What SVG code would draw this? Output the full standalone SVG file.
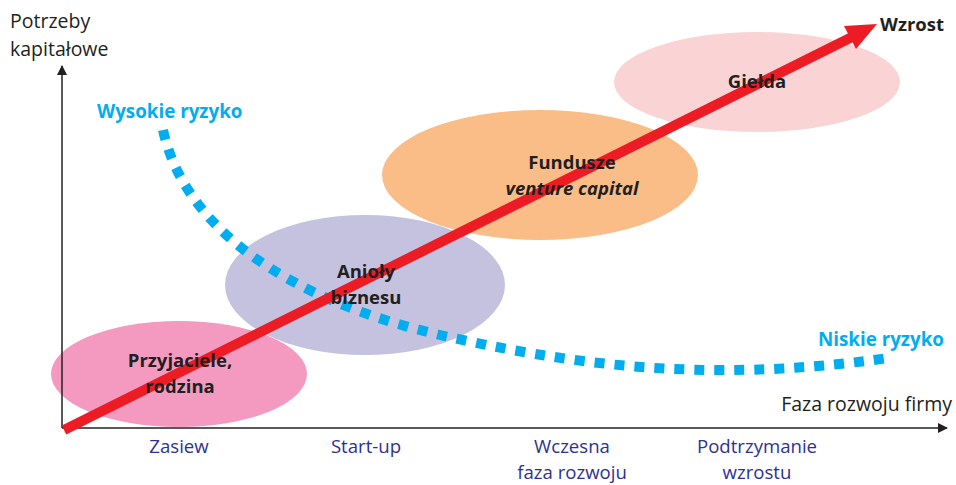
<svg xmlns="http://www.w3.org/2000/svg" width="956" height="485" viewBox="0 0 956 485">
<defs>
<style>
.t{font-family:"Open Sans","Liberation Sans",sans-serif;}
.ax{font-size:19.5px;fill:#231f20;}
.nd{font-size:18.5px;font-weight:bold;fill:#231f20;text-anchor:middle;}
.risk{font-size:18.8px;font-weight:bold;fill:#00aeef;}
.ph{font-size:18.6px;fill:#2e3192;text-anchor:middle;}
</style>
<marker id="ah" markerWidth="10" markerHeight="10" refX="9" refY="5" orient="auto" markerUnits="userSpaceOnUse" viewBox="0 0 10 10">
<path d="M0,0 L10,5 L0,10 z" fill="#231f20"/>
</marker>
</defs>
<rect width="956" height="485" fill="#ffffff"/>
<g id="n-przyjaciele"><ellipse cx="179" cy="374" rx="128" ry="53" fill="#f49ac1"/></g>
<g id="n-anioly"><ellipse cx="365" cy="285" rx="140" ry="70" fill="#c5c2e0"/></g>
<g id="n-fundusze"><ellipse cx="540" cy="175" rx="158" ry="65" fill="#fbbd88"/></g>
<g id="n-gielda"><ellipse cx="757" cy="82" rx="143" ry="50" fill="#fad4d4"/></g>
<g id="connectors">
<line x1="62" y1="428" x2="62" y2="66" stroke="#231f20" stroke-width="1.5" marker-end="url(#ah)"/>
<line x1="62" y1="428" x2="947" y2="428" stroke="#231f20" stroke-width="1.5" marker-end="url(#ah)"/>
<path d="M163,130 C185,230 290,300 440,335 C560,362 700,385 888,358" fill="none" stroke="#00aeef" stroke-width="10" stroke-dasharray="10,10"/>
<line x1="64" y1="430" x2="852" y2="37" stroke="#ed1c24" stroke-width="10"/>
<polygon points="877,24 844,26 856,49" fill="#ed1c24"/>
</g>
<g class="t">
<text class="ax" x="10" y="28">Potrzeby</text>
<text class="ax" x="10" y="56">kapitałowe</text>
<text class="ax" x="952" y="411" text-anchor="end">Faza rozwoju firmy</text>
<text class="risk" x="97" y="118">Wysokie ryzyko</text>
<text class="risk" x="944" y="346" text-anchor="end">Niskie ryzyko</text>
<text x="880" y="31" font-size="18.5" font-weight="bold" fill="#231f20">Wzrost</text>
<text class="nd" x="180" y="367">Przyjaciele,</text>
<text class="nd" x="180" y="393">rodzina</text>
<text class="nd" x="366" y="278">Anioły</text>
<text class="nd" x="366" y="304">biznesu</text>
<text class="nd" x="572" y="169">Fundusze</text>
<text class="nd" x="572" y="195" font-style="italic">venture capital</text>
<text class="nd" x="757" y="88">Giełda</text>
<text class="ph" x="179" y="453">Zasiew</text>
<text class="ph" x="366" y="453">Start-up</text>
<text class="ph" x="572" y="453">Wczesna</text>
<text class="ph" x="572" y="479">faza rozwoju</text>
<text class="ph" x="757" y="453">Podtrzymanie</text>
<text class="ph" x="757" y="479">wzrostu</text>
</g>
</svg>
